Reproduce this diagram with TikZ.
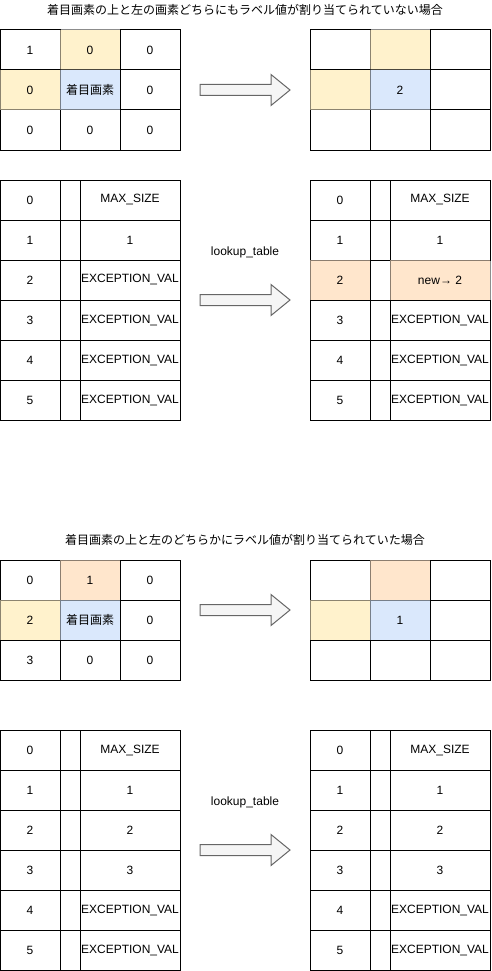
\documentclass[tikz,border=0pt]{standalone}
\usepackage{fontspec}
\setmainfont{Liberation Sans}
\newfontfamily\jpfont{Noto Sans CJK JP}
\usetikzlibrary{positioning}

\definecolor{yelfill}{HTML}{FFF2CC}
\definecolor{blufill}{HTML}{DAE8FC}
\definecolor{orgfill}{HTML}{FFE6CC}
\definecolor{arrfill}{HTML}{F5F5F5}
\definecolor{arrline}{HTML}{666666}

\tikzset{
  cell/.style={draw, fill=white, line width=1pt, minimum width=60pt,
    minimum height=40pt, inner sep=0pt, outer sep=0pt},
  wcell/.style={},
  hl/.style={draw=black, draw opacity=.45},
  yel/.style={hl, fill=yelfill},
  blu/.style={hl, fill=blufill},
  org/.style={hl, fill=orgfill},
  gap/.style={minimum width=20pt},
  val/.style={minimum width=100pt},
  bigarrow/.pic={
    \draw[arrline, fill=arrfill, line width=1pt]
      (0,-5.5) -- (71,-5.5) -- (71,-15.5) -- (90,0) -- (71,15.5)
      -- (71,5.5) -- (0,5.5) -- cycle;
  }
}

\begin{document}
\begin{tikzpicture}[x=1pt,y=-1pt,font=\fontsize{12}{14}\selectfont]
  \useasboundingbox (0,0) rectangle (491,971);

  % case 1: no label above or left
  \node (title1) at (245,10) {\jpfont 着目画素の上と左の画素どちらにもラベル値が割り当てられていない場合};
  \foreach \r/\c/\s/\t in {0/0/wcell/1, 0/2/wcell/0, 1/2/wcell/0, 2/0/wcell/0,
      2/1/wcell/0, 2/2/wcell/0, 0/1/yel/0, 1/0/yel/0, 1/1/blu/{\jpfont 着目画素}}
    \node[cell,\s] (a\r\c) at ({30+60*\c},{50+40*\r}) {\t};
  \pic at (200,90) {bigarrow};
  \foreach \r/\c/\s/\t in {0/0/wcell/{}, 0/2/wcell/{}, 1/2/wcell/{}, 2/0/wcell/{},
      2/1/wcell/{}, 2/2/wcell/{}, 0/1/yel/{}, 1/0/yel/{}, 1/1/blu/2}
    \node[cell,\s] (b\r\c) at ({340+60*\c},{50+40*\r}) {\t};

  \foreach \r/\v in {0/MAX\_SIZE, 1/1, 2/EXCEPTION\_VAL, 3/EXCEPTION\_VAL,
      4/EXCEPTION\_VAL, 5/EXCEPTION\_VAL} {
    \node[cell] (ta\r) at (30,{200+40*\r}) {\r};
    \node[cell,gap,right=0pt of ta\r] (tb\r) {};
    \node[cell,val,right=0pt of tb\r] (tc\r) {\v};
  }
  \node (lut1) at (245,252) {lookup\_table};
  \pic at (200,300) {bigarrow};
  \foreach \r/\v/\s in {0/MAX\_SIZE/wcell, 1/1/wcell, 2/{new→ 2}/org,
      3/EXCEPTION\_VAL/wcell, 4/EXCEPTION\_VAL/wcell, 5/EXCEPTION\_VAL/wcell} {
    \node[cell,\s] (ua\r) at (340,{200+40*\r}) {\r};
    \node[cell,gap,right=0pt of ua\r] (ub\r) {};
    \node[cell,val,\s,right=0pt of ub\r] (uc\r) {\v};
  }

  % case 2: a label above or left
  \node (title2) at (245,540) {\jpfont 着目画素の上と左のどちらかにラベル値が割り当てられていた場合};
  \foreach \r/\c/\s/\t in {0/0/wcell/0, 0/2/wcell/0, 1/2/wcell/0, 2/0/wcell/3,
      2/1/wcell/0, 2/2/wcell/0, 0/1/org/1, 1/0/yel/2, 1/1/blu/{\jpfont 着目画素}}
    \node[cell,\s] (c\r\c) at ({30+60*\c},{580+40*\r}) {\t};
  \pic at (200,610) {bigarrow};
  \foreach \r/\c/\s/\t in {0/0/wcell/{}, 0/2/wcell/{}, 1/2/wcell/{}, 2/0/wcell/{},
      2/1/wcell/{}, 2/2/wcell/{}, 0/1/org/{}, 1/0/yel/{}, 1/1/blu/1}
    \node[cell,\s] (d\r\c) at ({340+60*\c},{580+40*\r}) {\t};

  \foreach \r/\v in {0/MAX\_SIZE, 1/1, 2/2, 3/3, 4/EXCEPTION\_VAL, 5/EXCEPTION\_VAL} {
    \node[cell] (va\r) at (30,{750+40*\r}) {\r};
    \node[cell,gap,right=0pt of va\r] (vb\r) {};
    \node[cell,val,right=0pt of vb\r] (vc\r) {\v};
    \node[cell] (wa\r) at (340,{750+40*\r}) {\r};
    \node[cell,gap,right=0pt of wa\r] (wb\r) {};
    \node[cell,val,right=0pt of wb\r] (wc\r) {\v};
  }
  \node (lut2) at (245,802) {lookup\_table};
  \pic at (200,850) {bigarrow};
\end{tikzpicture}
\end{document}
